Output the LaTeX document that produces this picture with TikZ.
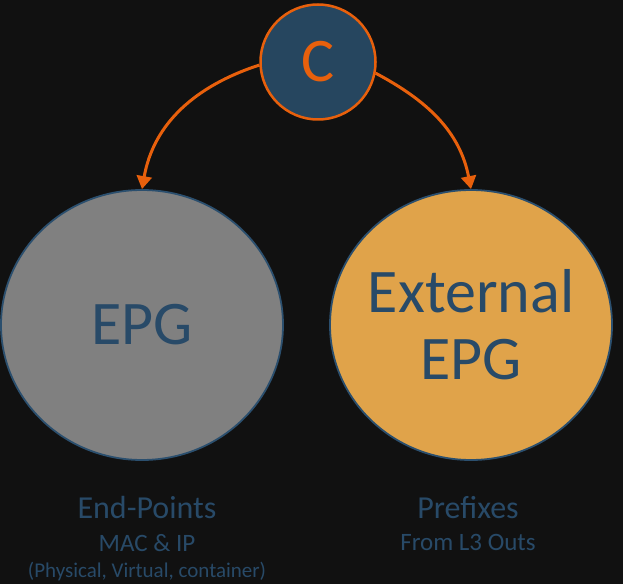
\documentclass[tikz,border=0pt]{standalone}
\usepackage{fontspec}
\setmainfont{Carlito}
\usepackage{xcolor}
\definecolor{night}{HTML}{111111}
\definecolor{flame}{HTML}{E8600C}
\definecolor{slate}{HTML}{26465F}
\definecolor{inkblue}{HTML}{284A68}
\definecolor{rim}{HTML}{2B4F6E}
\definecolor{stone}{HTML}{808080}
\definecolor{amber}{HTML}{E0A34A}
\usepackage{tikz}
\usetikzlibrary{positioning,arrows.meta,shapes.geometric}
\tikzset{
  >={Triangle[length=13pt,width=15pt]},
  ctrl/.style={circle,draw=flame,fill=slate,line width=2.5pt,minimum size=115pt,inner sep=0pt,
    text=flame,font=\fontsize{62}{62}\selectfont},
  grp/.style={ellipse,draw=rim,line width=1.8pt,minimum width=282pt,minimum height=270pt,inner sep=0pt},
  grptext/.style={align=center,text=inkblue,font=\fontsize{62}{67}\selectfont},
  link/.style={->,draw=flame,line width=3pt},
  capa/.style={anchor=base,text=inkblue,font=\fontsize{32}{32}\selectfont},
  capb/.style={anchor=base,text=inkblue,font=\fontsize{25}{25}\selectfont},
  capc/.style={anchor=base,text=inkblue,font=\fontsize{21}{21}\selectfont},
}
\begin{document}
\begin{tikzpicture}[x=1pt,y=1pt]
  \fill[night] (0,0) rectangle (623,584);
  \useasboundingbox (0,0) rectangle (623,584);
  \node[ctrl] (c) at (318,522) {C};
  \node[grp,fill=stone,label={[grptext]center:EPG}] (epg) at (142,259) {};
  \node[grp,fill=amber,label={[grptext]center:External\\EPG}] (ext) at (471,259) {};
  \draw[link] (c.183) to[out=198,in=80] (epg.north);
  \draw[link] (c.-11) to[out=-28,in=101] (ext.north);
  % captions
  \node[capa] (epname) at (147,66) {End-Points};
  \node[capb] (epaddr) at (147,33) {MAC \& IP};
  \node[capc] (epkind) at (147,7) {(Physical, Virtual, container)};
  \node[capa] (pfname) at (468,66) {Prefixes};
  \node[capb] (pfsrc) at (468,34) {From L3 Outs};
\end{tikzpicture}
\end{document}
